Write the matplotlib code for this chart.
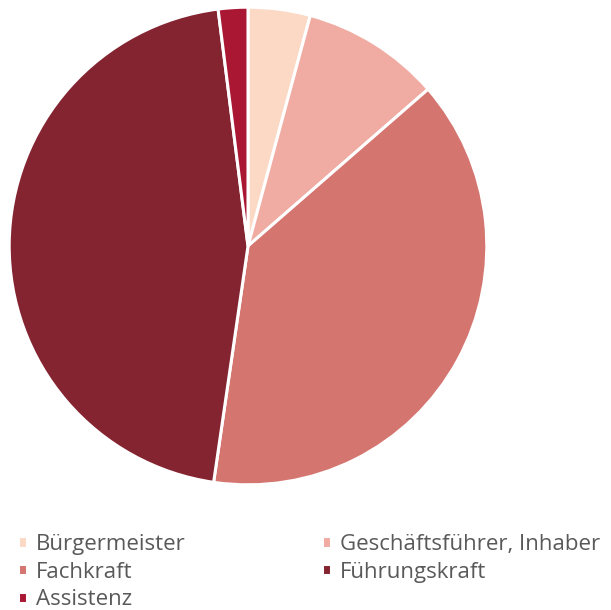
import matplotlib.pyplot as plt

labels = ['Bürgermeister', 'Geschäftsführer, Inhaber', 'Fachkraft', 'Führungskraft', 'Assistenz']
values = [4.2, 9.4, 38.7, 45.7, 2.0]
colors = ['#FCD9C4', '#F0ACA2', '#D47570', '#842431', '#A91733']

plt.rcParams['font.family'] = ['Open Sans', 'DejaVu Sans']

fig = plt.figure(figsize=(6.11, 6.10), dpi=100)
ax = fig.add_axes([8/611, 124/610, 480/611, 480/610])
wedges, _ = ax.pie(values, colors=colors, startangle=90, counterclock=False,
                   wedgeprops=dict(edgecolor='white', linewidth=2.2))
ax.set_xlim(-1.005, 1.005)
ax.set_ylim(-1.005, 1.005)
ax.set_aspect('equal')

# row-wise order for a 2 column legend
order = [0, 2, 4, 1, 3]
leg = fig.legend([wedges[i] for i in order], [labels[i] for i in order],
                 ncol=2, loc='upper left', bbox_to_anchor=(18/611, 1 - 534/610),
                 frameon=False, fontsize=16, handlelength=0.42, handleheight=0.42,
                 handletextpad=0.4, labelspacing=0.3, columnspacing=6.1,
                 borderaxespad=0, borderpad=0)
for t in leg.get_texts():
    t.set_color('#595959')

fig.savefig('out.png', dpi=100)
